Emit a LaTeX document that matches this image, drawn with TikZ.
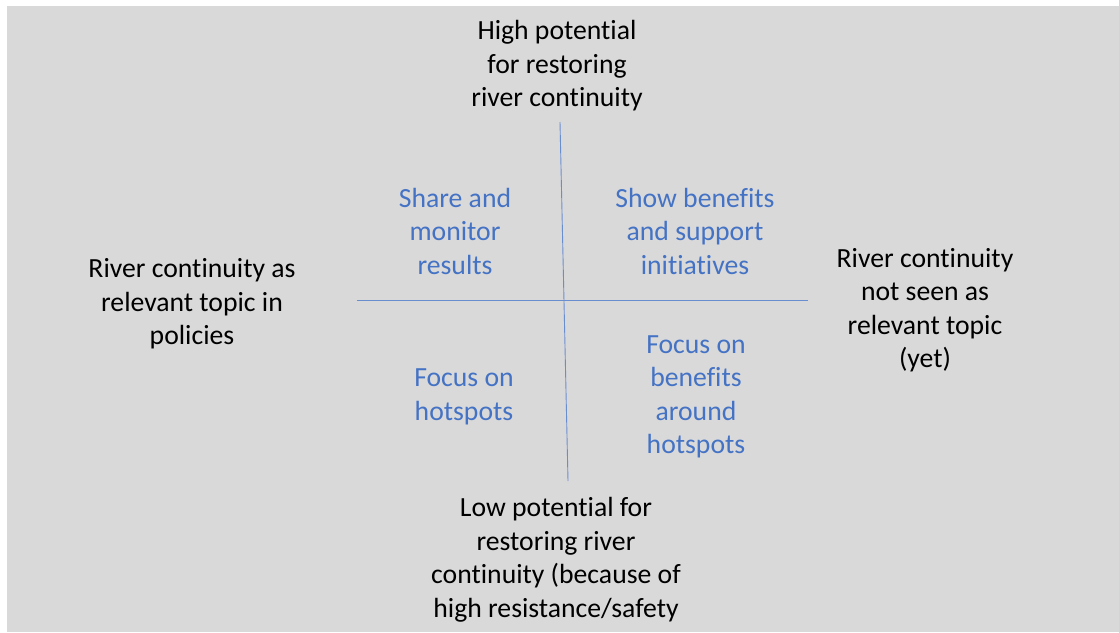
\documentclass[tikz,border=0pt]{standalone}
\usepackage{fontspec}
\setmainfont[Ligatures=NoCommon]{Carlito}
\usepackage{tikz}
\definecolor{panelgray}{HTML}{D9D9D9}
\definecolor{officeblue}{HTML}{4472C4}

\begin{document}
\begin{tikzpicture}[x=1pt,y=-1pt,
    every node/.style={align=center,inner sep=0pt,font=\fontsize{27.7}{33.5}\selectfont},
    axislabel/.style={text=black},
    advice/.style={text=officeblue},
    axis/.style={draw=officeblue!80,line width=0.9pt}]
        \useasboundingbox[fill=white] (0,0) rectangle (1119,632);
        \fill[panelgray] (7,6) rectangle (1119,632);
        % axes
        \coordinate (north) at (560,122);
        \coordinate (south) at (568,481);
        \coordinate (west) at (357,300);
        \coordinate (east) at (808,300);
        \draw[axis] (north) -- (south);
        \draw[axis] (west) -- (east);
        % axis ends
        \node[axislabel] (high) at (557,66) {High potential\\for restoring\\river continuity};
        \node[axislabel] (low) at (556,560) {Low potential for\\restoring river\\continuity (because of\\high resistance/safety};
        \node[axislabel] (policy) at (192,304) {River continuity as\\relevant topic in\\policies};
        \node[axislabel] (nopolicy) at (925,310) {River continuity\\not seen as\\relevant topic\\(yet)};
        % quadrants
        \node[advice] (share) at (455,231) {Share and\\monitor\\results};
        \node[advice] (show) at (695,231) {Show benefits\\and support\\initiatives};
        \node[advice] (focus) at (464,397) {Focus on\\hotspots};
        \node[advice] (around) at (696,397) {Focus on\\benefits\\around\\hotspots};
\end{tikzpicture}
\end{document}
